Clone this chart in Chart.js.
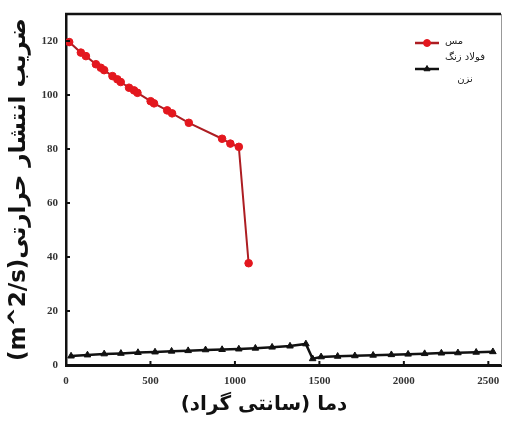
<!DOCTYPE html>
<html>
<head>
<meta charset="utf-8">
<script src="https://cdn.jsdelivr.net/npm/chart.js@4/dist/chart.umd.min.js"></script>
<style>
  html, body { margin: 0; padding: 0; background: #ffffff; }
  #wrap { width: 506px; height: 423px; }
</style>
</head>
<body>
<div id="wrap"><canvas id="c" width="506" height="423"></canvas></div>
<script>
// Thermal diffusivity vs temperature
const copperLabel = 'مس';
const steelLabel = ['فولاد زنگ', 'نزن'];
const xTitle = '\u202Bدما (سانتی گراد)\u202C';
const yTitle = '\u202Bضریب انتشار حرارتی(m^2/s)\u202C';

const copperTemps = [19, 88, 118, 177, 206, 226, 275, 304, 324, 373, 403, 423, 501, 521, 599, 628, 727, 924, 973, 1023, 1081];
const copperValues = [119.6, 115.7, 114.4, 111.4, 110.1, 109.2, 107.0, 105.8, 104.8, 102.7, 101.7, 100.8, 97.7, 96.9, 94.3, 93.2, 89.7, 83.8, 82.0, 80.8, 37.7];

const steelTemps = [30, 127, 226, 325, 426, 527, 625, 723, 826, 924, 1023, 1121, 1220, 1326, 1420, 1460, 1510, 1608, 1710, 1818, 1926, 2025, 2123, 2222, 2320, 2428, 2527];
const steelValues = [3.3, 3.7, 4.1, 4.3, 4.6, 4.8, 5.1, 5.3, 5.6, 5.7, 5.9, 6.2, 6.6, 7.0, 7.8, 2.3, 3.0, 3.2, 3.4, 3.6, 3.8, 4.0, 4.2, 4.4, 4.5, 4.7, 4.9];

const xTickValues = [0, 500, 1000, 1500, 2000, 2500];
const yTickValues = [0, 20, 40, 60, 80, 100, 120];

const toPoints = (xs, ys) => xs.map((x, i) => ({ x: x, y: ys[i] }));

const tickFont = { family: '"Liberation Serif", "DejaVu Serif", serif', size: 11, weight: 'bold' };
const titleFont = { family: '"DejaVu Sans", sans-serif', size: 23, weight: 'bold' };

// frame, inward tick marks, x title and the legend
const decorations = {
  id: 'decorations',
  afterDraw(chart) {
    const ctx = chart.ctx;
    const a = chart.chartArea;
    const xs = chart.scales.x, ys = chart.scales.y;
    ctx.save();
    // top and right edges of the plot box
    ctx.strokeStyle = '#111';
    ctx.lineWidth = 2.5;
    ctx.beginPath();
    ctx.moveTo(a.left - 1, a.top);
    ctx.lineTo(a.right, a.top);
    ctx.stroke();
    ctx.strokeStyle = '#999';
    ctx.lineWidth = 1;
    ctx.beginPath();
    ctx.moveTo(a.right + 0.5, a.top);
    ctx.lineTo(a.right + 0.5, a.bottom);
    ctx.stroke();
    // inward ticks
    ctx.strokeStyle = '#111';
    ctx.lineWidth = 2;
    xTickValues.forEach(v => {
      if (v === 0) return;
      const px = xs.getPixelForValue(v);
      ctx.beginPath();
      ctx.moveTo(px, a.bottom);
      ctx.lineTo(px, a.bottom - 4);
      ctx.stroke();
    });
    yTickValues.forEach(v => {
      if (v === 0) return;
      const py = ys.getPixelForValue(v);
      ctx.beginPath();
      ctx.moveTo(a.left, py);
      ctx.lineTo(a.left + 4, py);
      ctx.stroke();
    });

    // x axis title, set a little left of the plot centre
    ctx.fillStyle = '#111';
    ctx.font = 'bold 20px "DejaVu Sans", sans-serif';
    ctx.textAlign = 'center';
    ctx.textBaseline = 'middle';
    ctx.fillText(xTitle, a.left + 198, 405);

    // legend
    const lx = a.right - 86;
    const items = [
      { ds: chart.data.datasets[0], y: a.top + 29, lines: [copperLabel], ty: [a.top + 27] },
      { ds: chart.data.datasets[1], y: a.top + 55, lines: steelLabel, ty: [a.top + 43, a.top + 65] }
    ];
    items.forEach(it => {
      ctx.strokeStyle = it.ds.borderColor;
      ctx.lineWidth = 2.5;
      ctx.beginPath();
      ctx.moveTo(lx, it.y);
      ctx.lineTo(lx + 24, it.y);
      ctx.stroke();
      ctx.fillStyle = it.ds.pointBackgroundColor;
      ctx.strokeStyle = it.ds.pointBorderColor;
      ctx.lineWidth = 1;
      Chart.helpers.drawPoint(ctx, {
        pointStyle: it.ds.pointStyle,
        radius: 3.5,
        borderWidth: 1
      }, lx + 12, it.y);
      ctx.fillStyle = '#222';
      ctx.font = '10px "DejaVu Sans", sans-serif';
      ctx.textAlign = 'center';
      ctx.textBaseline = 'middle';
      const tx = lx + 50;
      it.lines.forEach((t, i) => {
        const w = ctx.measureText(t).width;
        const cx = it.lines.length === 1 ? lx + 30 + w / 2 : tx;
        ctx.fillText('\u202B' + t + '\u202C', cx, it.ty[i]);
      });
    });
    ctx.restore();
  }
};

new Chart(document.getElementById('c'), {
  type: 'line',
  data: {
    datasets: [
      {
        label: copperLabel,
        data: toPoints(copperTemps, copperValues),
        borderColor: '#ad1d22',
        borderWidth: 2,
        pointStyle: 'circle',
        pointRadius: 3.8,
        pointBackgroundColor: '#e3171e',
        pointBorderColor: '#e3171e',
        pointBorderWidth: 1,
        tension: 0
      },
      {
        label: steelLabel.join(' '),
        data: toPoints(steelTemps, steelValues),
        borderColor: '#111111',
        borderWidth: 2.5,
        pointStyle: 'triangle',
        pointRadius: 3.8,
        pointBackgroundColor: '#111111',
        pointBorderColor: '#111111',
        pointBorderWidth: 1,
        tension: 0
      }
    ]
  },
  options: {
    responsive: false,
    animation: false,
    layout: { padding: { top: 14, right: 3, left: 0, bottom: 0 } },
    plugins: {
      legend: { display: false },
      tooltip: { enabled: false }
    },
    scales: {
      x: {
        type: 'linear',
        min: 0,
        max: 2575,
        afterBuildTicks: s => { s.ticks = xTickValues.map(v => ({ value: v })); },
        afterFit: s => { s.height = 58; s.paddingLeft = 0; s.paddingRight = 0; },
        grid: { display: false, drawTicks: false },
        border: { display: true, color: '#111', width: 3 },
        ticks: { font: tickFont, color: '#333', padding: 10, maxRotation: 0, callback: v => String(v) },
        title: { display: false }
      },
      y: {
        type: 'linear',
        min: 0,
        max: 130,
        afterBuildTicks: s => { s.ticks = yTickValues.map(v => ({ value: v })); },
        afterFit: s => { s.width = 66; s.paddingTop = 0; s.paddingBottom = 0; },
        grid: { display: false, drawTicks: false },
        border: { display: true, color: '#111', width: 2.5 },
        ticks: { font: tickFont, color: '#333', padding: 8, callback: v => String(v) },
        title: { display: true, text: yTitle, font: titleFont, color: '#111', padding: { top: 5, bottom: 0 } }
      }
    }
  },
  plugins: [decorations]
});
</script>
</body>
</html>
